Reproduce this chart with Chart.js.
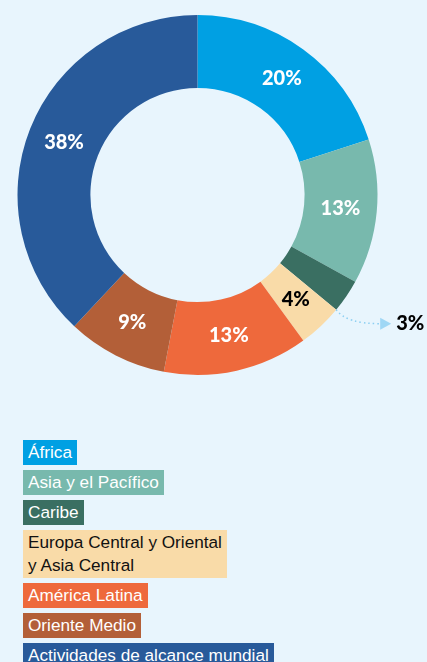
<!DOCTYPE html>
<html>
<head>
<meta charset="utf-8">
<script src="https://cdn.jsdelivr.net/npm/chart.js@4"></script>
<style>
  html, body { margin: 0; padding: 0; background: #e8f5fd; }
  body { width: 427px; height: 662px; overflow: hidden; position: relative; }
  #wrap { position: absolute; left: 0; top: 0; width: 427px; height: 392px; }
  #legend { position: absolute; left: 23px; top: 440px; font-family: "Liberation Sans", Arial, sans-serif; font-size: 17.2px; }
  #legend div { display: table; padding: 1px 5px 1px 5px; line-height: 23px; margin-bottom: 5px; }
</style>
</head>
<body>
<div id="wrap"><canvas id="c"></canvas></div>
<div id="legend"></div>
<script>
// Region shares, clockwise from 12 o'clock
const regions = ['África', 'Asia y el Pacífico', 'Caribe', 'Europa Central y Oriental\ny Asia Central', 'América Latina', 'Oriente Medio', 'Actividades de alcance mundial'];
const shares = [20, 13, 3, 4, 13, 9, 38];
const sliceColors = ['#00a0e3', '#78b9ad', '#3a6f62', '#f9dba8', '#ee693c', '#b35f38', '#285a9a'];
const labelColors = ['#ffffff', '#ffffff', '#000000', '#000000', '#ffffff', '#ffffff', '#ffffff'];
const legendText = ['#ffffff', '#ffffff', '#ffffff', '#111111', '#ffffff', '#ffffff', '#ffffff'];
const calloutIndex = 2; // Caribe is too thin: label sits outside with an arrow

// legend blocks
const legend = document.getElementById('legend');
regions.forEach((r, i) => {
    const d = document.createElement('div');
    d.style.background = sliceColors[i];
    d.style.color = legendText[i];
    d.innerHTML = r.split('\n').join('<br>');
    legend.appendChild(d);
});

const sliceLabels = {
    id: 'sliceLabels',
    afterDatasetsDraw(chart) {
        const ctx = chart.ctx;
        const arcs = chart.getDatasetMeta(0).data;
        ctx.save();
        ctx.font = '900 20px Lato, "DejaVu Sans", sans-serif';
        ctx.textAlign = 'center';
        ctx.textBaseline = 'middle';
        arcs.forEach((arc, i) => {
            const txt = shares[i] + '%';
            if (i === calloutIndex) {
                // dotted curve from the slice's outer corner to the label
                const a = arc.endAngle;
                const sx = arc.x + Math.cos(a) * arc.outerRadius;
                const sy = arc.y + Math.sin(a) * arc.outerRadius;
                const ex = sx + 44, ey = sy + 14;
                ctx.strokeStyle = '#8ccff2';
                ctx.lineWidth = 1.5;
                ctx.setLineDash([1.5, 3]);
                ctx.beginPath();
                ctx.moveTo(sx, sy);
                ctx.quadraticCurveTo(sx + 10, ey, ex, ey);
                ctx.stroke();
                ctx.setLineDash([]);
                ctx.fillStyle = '#9fd7f5';
                ctx.beginPath();
                ctx.moveTo(ex, ey - 6);
                ctx.lineTo(ex + 11, ey);
                ctx.lineTo(ex, ey + 6);
                ctx.closePath();
                ctx.fill();
                ctx.fillStyle = labelColors[i];
                ctx.textAlign = 'left';
                ctx.fillText(txt, ex + 16, ey);
                ctx.textAlign = 'center';
                return;
            }
            const p = arc.tooltipPosition();
            ctx.fillStyle = labelColors[i];
            ctx.fillText(txt, p.x, p.y);
        });
        ctx.restore();
    }
};

new Chart(document.getElementById('c'), {
    type: 'doughnut',
    data: {
        labels: regions,
        datasets: [{
            data: shares,
            backgroundColor: sliceColors,
            borderWidth: 0
        }]
    },
    options: {
        responsive: true,
        maintainAspectRatio: false,
        animation: false,
        cutout: '59.5%',
        layout: { padding: { left: 17, right: 49, top: 15, bottom: 17 } },
        plugins: {
            legend: { display: false },
            tooltip: { enabled: false }
        }
    },
    plugins: [sliceLabels]
});
</script>
</body>
</html>
